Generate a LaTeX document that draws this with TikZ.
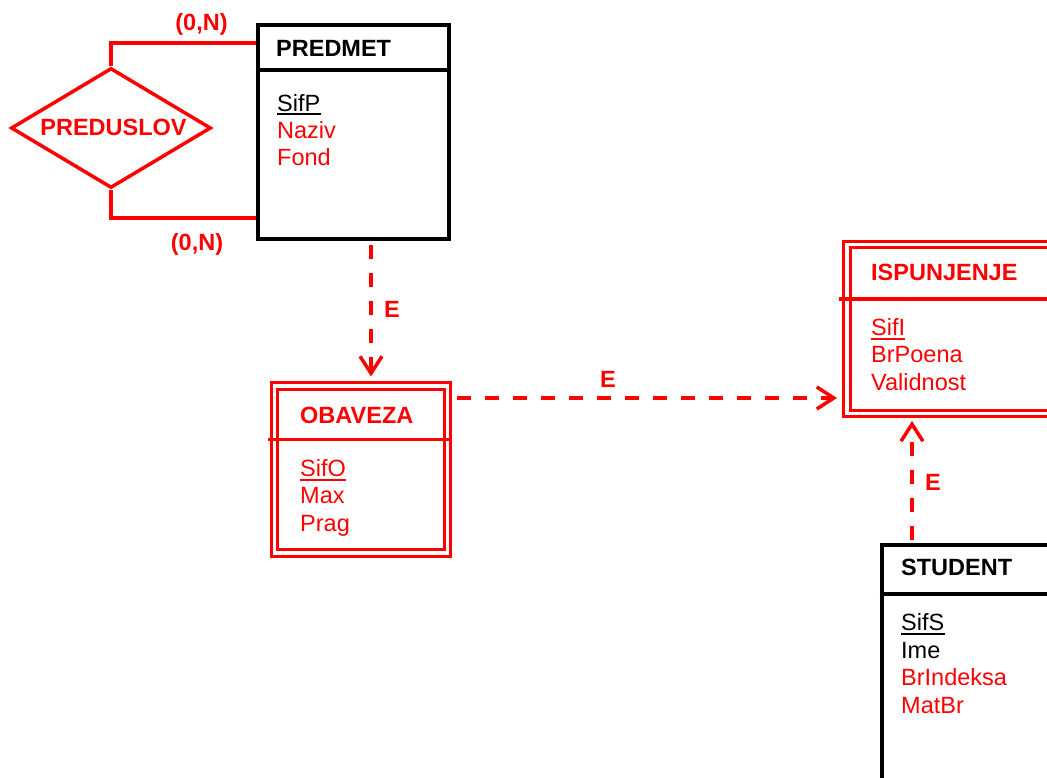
\documentclass[tikz,border=0pt]{standalone}
\usepackage{fontspec}
\setmainfont{Liberation Sans}
\usetikzlibrary{arrows.meta,shapes.geometric}
\definecolor{erred}{RGB}{255,0,0}
\tikzset{
  ent/.style={draw=black, line width=4pt, rectangle, inner sep=0pt},
  entline/.style={draw=black, line width=3.5pt},
  weak/.style={draw=erred, line width=3pt, double=white, double distance=3.5pt, rectangle, inner sep=0pt},
  weakline/.style={draw=erred, line width=3.5pt},
  hdr/.style={anchor=base west, inner sep=0pt, font=\fontsize{23.5}{27}\selectfont\bfseries},
  att/.style={anchor=base west, inner sep=0pt},
  lbl/.style={anchor=base, inner sep=0pt, text=erred, font=\fontsize{23.5}{27}\selectfont\bfseries},
  rel/.style={draw=erred, line width=3.5pt},
  dep/.style={draw=erred, line width=3.5pt, dash pattern=on 14pt off 14pt,
    -{Straight Barb[length=17pt,width=22pt,line width=3.5pt]}},
  uline/.style={line width=2pt}
}
\begin{document}
\begin{tikzpicture}[x=1pt,y=-1pt,font=\fontsize{23.5}{27}\selectfont]
\clip (0,0) rectangle (1047,777);

% PREDMET
\node[ent, minimum width=191pt, minimum height=214.5pt, anchor=north west] (predmet) at (256,22.5) {};
\draw[entline] ([yshift=-47.5pt]predmet.north west) -- ([yshift=-47.5pt]predmet.north east);
\node[hdr] (predmetT) at (276,56) {PREDMET};
\node[att] (sifp) at (277,111) {SifP};
\draw[uline] ([yshift=-3pt]sifp.base west) -- ([yshift=-3pt]sifp.base east);
\node[att, text=erred] (naziv) at (277,138.3) {Naziv};
\node[att, text=erred] (fond) at (277,165.6) {Fond};

% PREDUSLOV
\node[diamond, draw=erred, line width=3.5pt, minimum width=200pt, minimum height=120pt, inner sep=0pt] (preduslov) at (111,128) {};
\node[lbl] (preduslovT) at (113.5,135) {PREDUSLOV};
\draw[rel] (preduslov.north) |- ([yshift=-20.5pt]predmet.north west);
\draw[rel] (preduslov.south) |- ([yshift=23pt]predmet.south west);
\node[lbl] (card1) at (201.5,30) {(0,N)};
\node[lbl] (card2) at (197,250) {(0,N)};

% OBAVEZA
\node[weak, minimum width=173pt, minimum height=167pt] (obaveza) at (361,469.5) {};
\draw[weakline] ([shift={(-5pt,-55pt)}]obaveza.north west) -- ([shift={(3pt,-55pt)}]obaveza.north east);
\node[hdr, text=erred] (obavezaT) at (300,423.3) {OBAVEZA};
\node[att, text=erred] (sifo) at (300,476) {SifO};
\draw[uline, erred] ([yshift=-4pt]sifo.base west) -- ([yshift=-4pt]sifo.base east);
\node[att, text=erred] (max) at (300,503.5) {Max};
\node[att, text=erred] (prag) at (300,531) {Prag};

% ISPUNJENJE
\node[weak, minimum width=260pt, minimum height=169pt, anchor=north west] (ispunjenje) at (845.5,243) {};
\draw[weakline] ([shift={(-6.5pt,-56pt)}]ispunjenje.north west) -- ([shift={(0pt,-56pt)}]ispunjenje.north east);
\node[hdr, text=erred] (ispunjenjeT) at (871,280.7) {ISPUNJENJE};
\node[att, text=erred] (sifi) at (871,335) {SifI};
\draw[uline, erred] ([yshift=-3.5pt]sifi.base west) -- ([yshift=-3.5pt]sifi.base east);
\node[att, text=erred] (brpoena) at (871,362.5) {BrPoena};
\node[att, text=erred] (validnost) at (871,390) {Validnost};

% STUDENT
\node[ent, minimum width=250pt, minimum height=300pt, anchor=north west] (student) at (879.5,543) {};
\draw[entline] ([yshift=-51pt]student.north west) -- ([yshift=-51pt]student.north east);
\node[hdr] (studentT) at (901,575) {STUDENT};
\node[att] (sifs) at (901,630.7) {SifS};
\draw[uline] ([yshift=-3pt]sifs.base west) -- ([yshift=-3pt]sifs.base east);
\node[att] (ime) at (901,658.2) {Ime};
\node[att, text=erred] (brindeksa) at (901,685.7) {BrIndeksa};
\node[att, text=erred] (matbr) at (901,713.2) {MatBr};

% dependencies
\draw[dep, shorten <=4pt, shorten >=8pt] ([xshift=17.5pt]predmet.south) -- ([xshift=17.5pt]predmet.south |- obaveza.north);
\node[lbl] (e1) at (392,317) {E};
\draw[dep, shorten <=7.5pt, shorten >=8.5pt] ([yshift=71.5pt]obaveza.east) -- ([yshift=71.5pt]obaveza.east -| ispunjenje.west);
\node[lbl] (e2) at (608,387.3) {E};
\draw[dep, shorten <=3pt, shorten >=6pt] ([xshift=32.5pt]student.north west) -- ([xshift=32.5pt]student.north west |- ispunjenje.south);
\node[lbl] (e3) at (933,490.5) {E};
\end{tikzpicture}
\end{document}
